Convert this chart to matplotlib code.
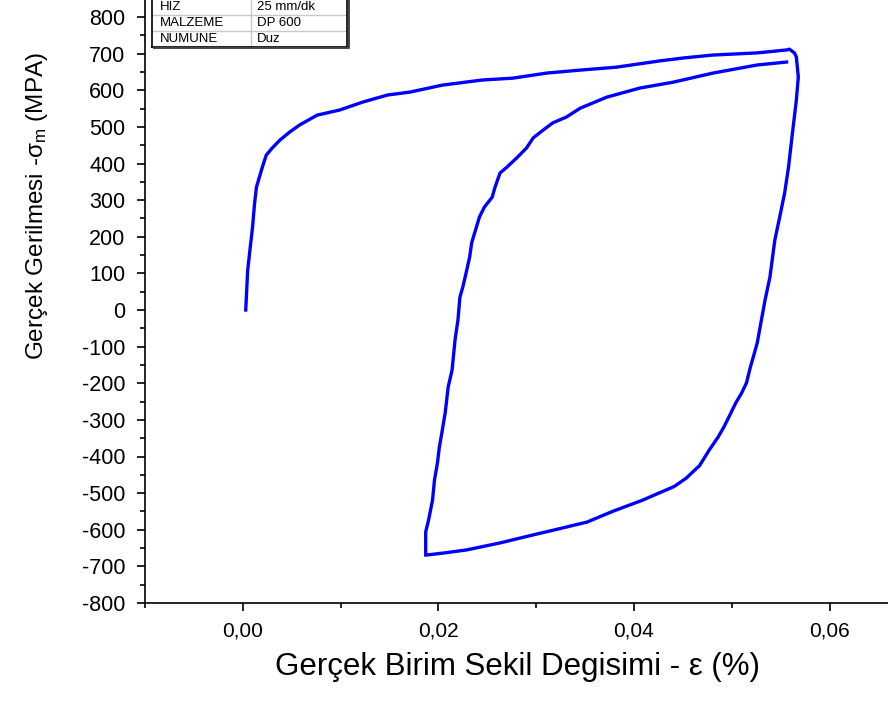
import matplotlib
matplotlib.use('Agg')
import matplotlib.pyplot as plt
from matplotlib.ticker import MultipleLocator, FuncFormatter
import numpy as np

plt.rcParams['font.family'] = ['Liberation Sans', 'DejaVu Sans']
plt.rcParams['mathtext.fontset'] = 'custom'
plt.rcParams['mathtext.rm'] = 'Liberation Sans'
plt.rcParams['mathtext.it'] = 'Liberation Sans'

# loading branch (strain, stress)
load_strain = [0.0003, 0.0005, 0.0008, 0.0010, 0.0012, 0.0014, 0.0020, 0.0024, 0.0030,
               0.0038, 0.0048, 0.0058, 0.0076, 0.0099, 0.0123, 0.0148, 0.0171, 0.0204,
               0.0245, 0.0276, 0.0311, 0.0345, 0.0382, 0.0426, 0.0450, 0.0480, 0.0526,
               0.0556, 0.0559, 0.0564, 0.0566]
load_stress = [0, 109, 180, 227, 290, 336, 390, 423, 442,
               464, 486, 505, 532, 546, 568, 587, 595, 614,
               628, 633, 647, 655, 663, 680, 688, 696, 702,
               710, 712, 702, 691]

# unloading to compression (right and bottom branch)
unload_strain = [0.0568, 0.0566, 0.0562, 0.0558, 0.0554, 0.0549, 0.0544, 0.0539, 0.0534,
                 0.0529, 0.0526, 0.0522, 0.0519, 0.0515, 0.0510, 0.0504, 0.0498, 0.0492,
                 0.0486, 0.0477, 0.0467, 0.0453, 0.0441, 0.0408, 0.0378, 0.0352, 0.0324,
                 0.0297, 0.0263, 0.0229, 0.0207, 0.0188]
unload_stress = [636, 573, 483, 390, 319, 254, 191, 90, 27,
                 -46, -90, -128, -156, -199, -227, -254, -287, -319,
                 -347, -382, -425, -460, -482, -520, -550, -579, -597,
                 -614, -636, -655, -663, -669]

# reloading branch (left side, back to the top)
reload_strain = [0.0187, 0.0187, 0.0190, 0.0194, 0.0196, 0.0199, 0.0201, 0.0204, 0.0207,
                 0.0210, 0.0214, 0.0217, 0.0220, 0.0222, 0.0225, 0.0229, 0.0232, 0.0234,
                 0.0237, 0.0242, 0.0247, 0.0255, 0.0258, 0.0263, 0.0270, 0.0280, 0.0290,
                 0.0297, 0.0307, 0.0317, 0.0331, 0.0345, 0.0372, 0.0406, 0.0440, 0.0481,
                 0.0526, 0.0556]
reload_stress = [-669, -606, -573, -519, -464, -418, -374, -328, -280,
                 -210, -164, -82, -27, 35, 63, 109, 145, 183,
                 210, 254, 281, 308, 336, 374, 390, 415, 442,
                 470, 491, 511, 527, 551, 581, 606, 622, 647,
                 669, 677]

info_keys = ['HIZ', 'MALZEME', 'NUMUNE']
info_vals = ['25 mm/dk', 'DP 600', 'Duz']

strain = np.concatenate([load_strain, unload_strain, reload_strain])
stress = np.concatenate([load_stress, unload_stress, reload_stress])

fig = plt.figure(figsize=(8.88, 7.04), dpi=100)
W, H = 888, 704
x0, x1 = -0.01, 0.07
y0, y1 = -800, 850
px_per_x = 9780
px_per_y = 586 / 1600
ax = fig.add_axes([145 / W, 101 / H, (x1 - x0) * px_per_x / W, (y1 - y0) * px_per_y / H])

ax.plot(strain, stress, color='#0000ff', lw=2.4, solid_joinstyle='miter')

ax.set_xlim(x0, x1)
ax.set_ylim(y0, y1)
ax.xaxis.set_major_locator(MultipleLocator(0.02))
ax.xaxis.set_minor_locator(MultipleLocator(0.01))
ax.yaxis.set_major_locator(MultipleLocator(100))
ax.yaxis.set_minor_locator(MultipleLocator(50))
ax.xaxis.set_major_formatter(FuncFormatter(lambda v, p: ('%.2f' % v).replace('.', ',')))
ax.yaxis.set_major_formatter(FuncFormatter(lambda v, p: '%d' % v))

for s in ['top', 'right']:
    ax.spines[s].set_visible(False)
for s in ['left', 'bottom']:
    ax.spines[s].set_linewidth(1.2)
ax.tick_params(which='major', direction='out', length=6, width=1.2, labelsize=15, pad=7)
ax.tick_params(which='minor', direction='out', length=3.5, width=1.2)
ax.tick_params(axis='y', which='major', pad=8, labelsize=15.5)

ax.set_xlabel('Gerçek Birim Sekil Degisimi - ε (%)', fontsize=22.5)
ax.xaxis.set_label_coords(517 / W, 1 - 652 / H, transform=fig.transFigure)
ax.set_ylabel('Gerçek Gerilmesi -$\\mathregular{σ_m}$ (MPA)', fontsize=17.5)
ax.yaxis.set_label_coords(50 / W, 1 - 206 / H, transform=fig.transFigure)

# info table in the top left corner
tab = fig.add_axes([152 / W, 1 - 47 / H, 195 / W, 48 / H])
tab.set_xlim(0, 1)
tab.set_ylim(0, 3)
tab.axis('off')
split = 0.51
for i in range(1, 3):
    tab.plot([0, 1], [i, i], color='#c8c8c8', lw=1)
tab.plot([split, split], [0, 3], color='#c8c8c8', lw=1)
tab.plot([0, 1, 1, 0, 0], [0, 0, 3, 3, 0], color='black', lw=1.2, clip_on=False)
tab.plot([0.01, 1.01, 1.01], [-0.06, -0.06, 2.95], color='#444444', lw=1.4, clip_on=False)
for i, (k, v) in enumerate(zip(info_keys, info_vals)):
    yy = 2.48 - i
    tab.text(0.04, yy, k, fontsize=9.5, va='center', ha='left')
    tab.text(split + 0.03, yy, v, fontsize=9.5, va='center', ha='left')

fig.savefig('out.png', dpi=100)
